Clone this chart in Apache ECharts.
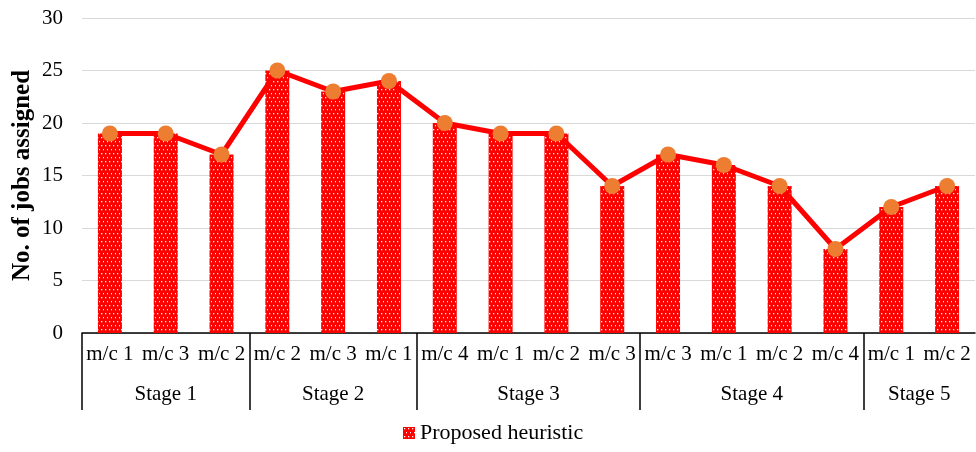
<!DOCTYPE html>
<html>
<head>
<meta charset="utf-8">
<script src="https://cdn.jsdelivr.net/npm/echarts@6/dist/echarts.min.js"></script>
<style>html,body{margin:0;padding:0;background:#fff}#c{width:976px;height:452px}</style>
</head>
<body>
<div id="c"></div>
<script>
const machines = ['m/c 1','m/c 3','m/c 2','m/c 2','m/c 3','m/c 1','m/c 4','m/c 1','m/c 2','m/c 3','m/c 3','m/c 1','m/c 2','m/c 4','m/c 1','m/c 2'];
const jobs = [19,19,17,25,23,24,20,19,19,14,17,16,14,8,12,14];
const stages = ['Stage 1','Stage 2','Stage 3','Stage 4','Stage 5'];
const stageSizes = [3,3,4,4,2];
const yTicks = [0,5,10,15,20,25,30];

// derived group boundaries and centers (from stageSizes)
const bounds = [0]; stageSizes.forEach(s => bounds.push(bounds[bounds.length-1] + s));
const centers = stages.map((_, i) => (bounds[i] + bounds[i+1]) / 2);

function makePattern(){
  const c = document.createElement('canvas'); c.width = 4; c.height = 8;
  const g = c.getContext('2d');
  g.fillStyle = '#ff0000'; g.fillRect(0,0,4,8);
  g.fillStyle = '#fff2f2';
  g.fillRect(1,1,1.3,1.3); g.fillRect(3,5,1.3,1.3);
  return c;
}
const pattern = {image: makePattern(), repeat: 'repeat'};
const font = 'Liberation Serif, Times New Roman, serif';

const chart = echarts.init(document.getElementById('c'));
chart.setOption({
  animation: false,
  grid: {left: 82, right: 1, top: 18, bottom: 119, outerBoundsMode: 'none', containLabel: false},
  legend: {
    data: ['Proposed heuristic'], bottom: 3, left: 398,
    icon: 'rect', itemWidth: 12, itemHeight: 12, itemGap: 5,
    textStyle: {fontFamily: font, fontSize: 22, color: '#000'}
  },
  xAxis: [{
    type: 'category', data: machines,
    axisLine: {lineStyle: {color: '#000', width: 1.5}},
    axisTick: {show: false},
    axisLabel: {fontFamily: font, fontSize: 21, color: '#000', margin: 11, interval: 0}
  }, {
    type: 'value', min: 0, max: machines.length, position: 'bottom',
    axisLine: {show: false},
    splitLine: {show: false},
    axisTick: {show: true, customValues: bounds.slice(0, bounds.length - 1), length: 77, inside: false,
      lineStyle: {color: '#000', width: 1.5}},
    axisLabel: {customValues: centers, fontFamily: font, fontSize: 21, color: '#000', margin: 51,
      formatter: v => { const i = centers.indexOf(v); return i >= 0 ? stages[i] : ''; }}
  }],
  yAxis: {
    type: 'value', min: 0, max: 30, interval: 5,
    name: 'No. of jobs assigned', nameLocation: 'middle', nameGap: 47, nameRotate: 90,
    nameMoveOverlap: false,
    nameTextStyle: {fontFamily: font, fontSize: 25, fontWeight: 'bold', color: '#000'},
    axisLine: {show: false}, axisTick: {show: false},
    axisLabel: {fontFamily: font, fontSize: 21, color: '#000', margin: 19},
    splitLine: {lineStyle: {color: '#d9d9d9', width: 1}}
  },
  series: [{
    name: 'Proposed heuristic', type: 'bar', data: jobs, barWidth: 24,
    itemStyle: {color: pattern}
  }, {
    name: 'line', type: 'line', data: jobs,
    lineStyle: {color: '#ff0000', width: 5},
    symbol: 'circle', symbolSize: 16,
    itemStyle: {color: '#ed7d31', borderWidth: 0}
  }]
});
</script>
</body>
</html>
